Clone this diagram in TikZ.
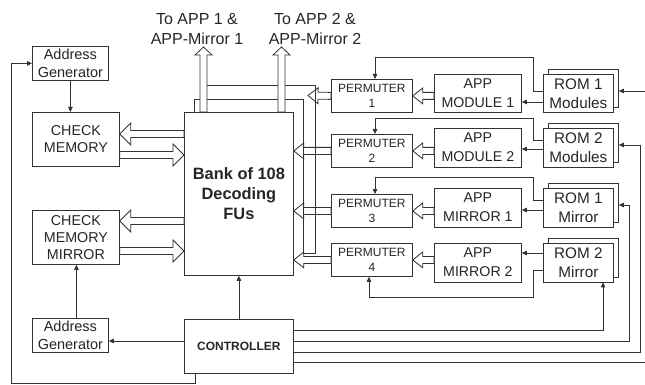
\documentclass[tikz,border=0pt]{standalone}
\usepackage{fontspec}
\setmainfont{Liberation Sans}
\usetikzlibrary{calc,arrows.meta}
\definecolor{lc}{HTML}{333333}
\newcommand\wideArrow[5]{%
  \draw[hollow] let \p1=(#1), \p2=(#2),
     \n1={veclen(\x2-\x1,\y2-\y1)},
     \n2={(\x2-\x1)/\n1}, \n3={(\y2-\y1)/\n1} in
     (\x1-\n3*#3,\y1+\n2*#3) -- (\x2-\n2*#5-\n3*#3,\y2-\n3*#5+\n2*#3)
     -- (\x2-\n2*#5-\n3*#4,\y2-\n3*#5+\n2*#4) -- (\x2,\y2)
     -- (\x2-\n2*#5+\n3*#4,\y2-\n3*#5-\n2*#4) -- (\x2-\n2*#5+\n3*#3,\y2-\n3*#5-\n2*#3)
     -- (\x1+\n3*#3,\y1-\n2*#3) -- cycle;}
\begin{document}
\begin{tikzpicture}[x=1pt,y=-1pt,
  line/.style={draw=lc, line width=0.8pt},
  box/.style={draw=lc, line width=0.8pt, fill=white, inner sep=0pt, align=center, anchor=north west, text=black!85},
  arr/.style={line, -{Triangle[length=5pt,width=4.5pt]}},
  hollow/.style={draw=lc, line width=0.8pt, fill=white, line join=miter},
  agfont/.style={font=\fontsize{14.5}{18}\selectfont},
  cmfont/.style={font=\fontsize{14.3}{17}\selectfont},
  appfont/.style={font=\fontsize{14.2}{19}\selectfont},
  romfont/.style={font=\fontsize{15.3}{19}\selectfont},
  permfont/.style={font=\fontsize{12}{15}\selectfont},
  topfont/.style={font=\fontsize{16}{20}\selectfont, align=center, text=black!85}]
\useasboundingbox (0,0) rectangle (645,385);

% top labels
\node[topfont] (t1) at (197,29) {To APP 1 \&\\APP-Mirror 1};
\node[topfont] (t2) at (315,29) {To APP 2 \&\\APP-Mirror 2};

% left column
\node[box, agfont, minimum width=76pt, minimum height=34pt] (ag1) at (32,46) {Address\\Generator};
\node[box, cmfont, minimum width=87pt, minimum height=54pt] (cm) at (32,112) {CHECK\\MEMORY};
\node[box, cmfont, minimum width=87pt, minimum height=54pt] (cmm) at (32,210) {CHECK\\MEMORY\\MIRROR};
\node[box, agfont, minimum width=76pt, minimum height=34pt] (ag2) at (32,318) {Address\\Generator};

% center
\node[box, font=\bfseries\fontsize{16.4}{20}\selectfont, minimum width=109pt, minimum height=163pt] (bank) at (184,112) {Bank of 108\\Decoding\\FUs};
\node[box, font=\bfseries\fontsize{12}{14}\selectfont, minimum width=109pt, minimum height=54pt] (ctrl) at (184,319) {CONTROLLER};

% permuters
\node[box, permfont, minimum width=81pt, minimum height=33pt] (p1) at (331,79) {PERMUTER\\1};
\node[box, permfont, minimum width=81pt, minimum height=33pt] (p2) at (331,134) {PERMUTER\\2};
\node[box, permfont, minimum width=81pt, minimum height=33pt] (p3) at (331,194) {PERMUTER\\3};
\node[box, permfont, minimum width=81pt, minimum height=33pt] (p4) at (331,243) {PERMUTER\\4};

% APP boxes
\node[box, appfont, minimum width=87pt, minimum height=38.5pt] (a1) at (434,74) {APP\\MODULE 1};
\node[box, appfont, minimum width=87pt, minimum height=38.5pt] (a2) at (434,128) {APP\\MODULE 2};
\node[box, appfont, minimum width=87pt, minimum height=38.5pt] (a3) at (434,188) {APP\\MIRROR 1};
\node[box, appfont, minimum width=87pt, minimum height=38.5pt] (a4) at (434,243) {APP\\MIRROR 2};

% ROM boxes (stacked)
\node[box, minimum width=70pt, minimum height=38.5pt] (r1b) at (548,69) {};
\node[box, romfont, minimum width=70pt, minimum height=38.5pt] (r1) at (543,74) {ROM 1\\Modules};
\node[box, minimum width=70pt, minimum height=38.5pt] (r2b) at (548,123) {};
\node[box, romfont, minimum width=70pt, minimum height=38.5pt] (r2) at (543,128) {ROM 2\\Modules};
\node[box, minimum width=70pt, minimum height=38.5pt] (r3b) at (548,183) {};
\node[box, romfont, minimum width=70pt, minimum height=38.5pt] (r3) at (543,188) {ROM 1\\Mirror};
\node[box, minimum width=70pt, minimum height=38.5pt] (r4b) at (548,238) {};
\node[box, romfont, minimum width=70pt, minimum height=38.5pt] (r4) at (543,243) {ROM 2\\Mirror};

% thin arrows, left side
\draw[arr] (ag1.south) -- (ag1.south |- cm.north);
\draw[arr] ([xshift=6pt]ag2.north) -- ([xshift=6pt]ag2.north |- cmm.south);
\draw[arr] (ctrl.north) -- (bank.south);
\draw[arr] (ctrl.west |- 0,341) -- (ag2.east |- 0,341);
\draw[arr] ([xshift=-43.5pt]ctrl.south) -- ++(0,10) -| (ag1.west -| 11,0) -- (ag1.west);

% controller to ROMs
\draw[arr] (ctrl.east |- 0,330) -| (r4.south -| 603,0);
\draw[arr] (ctrl.east |- 0,341) -| (629,205) -- (r3b.east |- 0,205);
\draw[arr] (ctrl.east |- 0,352) -| (640,145) -- (r2b.east |- 0,145);
\draw[arr] (ctrl.east |- 0,362) -- (648,362) -- (648,91) -- (r1b.east |- 0,91);

% ROM to APP
\draw[arr] (r1.west |- 0,102) -- (a1.east |- 0,102);
\draw[arr] (r2.west |- 0,149) -- (a2.east |- 0,149);
\draw[arr] (r3.west |- 0,210) -- (a3.east |- 0,210);
\draw[arr] (r4.west |- 0,253) -- (a4.east |- 0,253);

% ROM to PERMUTER
\draw[arr] (r1.west |- 0,91) -- (533,91) -- (533,57) -| (p1.north -| 375,0);
\draw[arr] (r2.west |- 0,140) -- (533,140) -- (533,118) -| (p2.north -| 375,0);
\draw[arr] (r3.west |- 0,200) -- (533,200) -- (533,177) -| (p3.north -| 375,0);
\draw[arr] (r4.west |- 0,270) -- (533,270) -- (533,297) -| (p4.south -| 369,0);

% APP to PERMUTER wide arrows
\wideArrow{a1.west |- p1.west}{p1.east}{3.5pt}{8pt}{10pt}
\wideArrow{a2.west |- p2.west}{p2.east}{3.5pt}{8pt}{10pt}
\wideArrow{a3.west |- p3.west}{p3.east}{3.5pt}{8pt}{10pt}
\wideArrow{a4.west |- p4.west}{p4.east}{3.5pt}{8pt}{10pt}

% check memory wide arrows
\wideArrow{bank.west |- 0,134}{cm.east |- 0,134}{3.5pt}{11pt}{11pt}
\wideArrow{cm.east |- 0,155}{bank.west |- 0,155}{3.5pt}{11pt}{11pt}
\wideArrow{bank.west |- 0,221}{cmm.east |- 0,221}{3.5pt}{11pt}{11pt}
\wideArrow{cmm.east |- 0,251}{bank.west |- 0,251}{3.5pt}{11pt}{11pt}

% PERMUTER to bank
\coordinate (bus1) at (308,95.5);
\wideArrow{p1.west}{bus1}{3.5pt}{8pt}{10pt}
\wideArrow{p2.west}{bank.east |- p2.west}{3.5pt}{8pt}{10pt}
\wideArrow{p3.west}{bank.east |- p3.west}{3.5pt}{8pt}{10pt}
\wideArrow{p4.west}{bank.east |- p4.west}{3.5pt}{8pt}{10pt}

% bus band
\draw[line] (303,253) -- (315,253) -- (315,85) -- (207,85);
\draw[line] (303,253) -- (303,99) -- (194,99) -- (194 ,112);

% outputs to APP
\coordinate (o1) at (203.5,47);
\coordinate (o2) at (281.5,47);
\wideArrow{bank.north -| o1}{o1}{3.5pt}{8.5pt}{8pt}
\wideArrow{bank.north -| o2}{o2}{3.5pt}{8.5pt}{8pt}
\end{tikzpicture}
\end{document}
